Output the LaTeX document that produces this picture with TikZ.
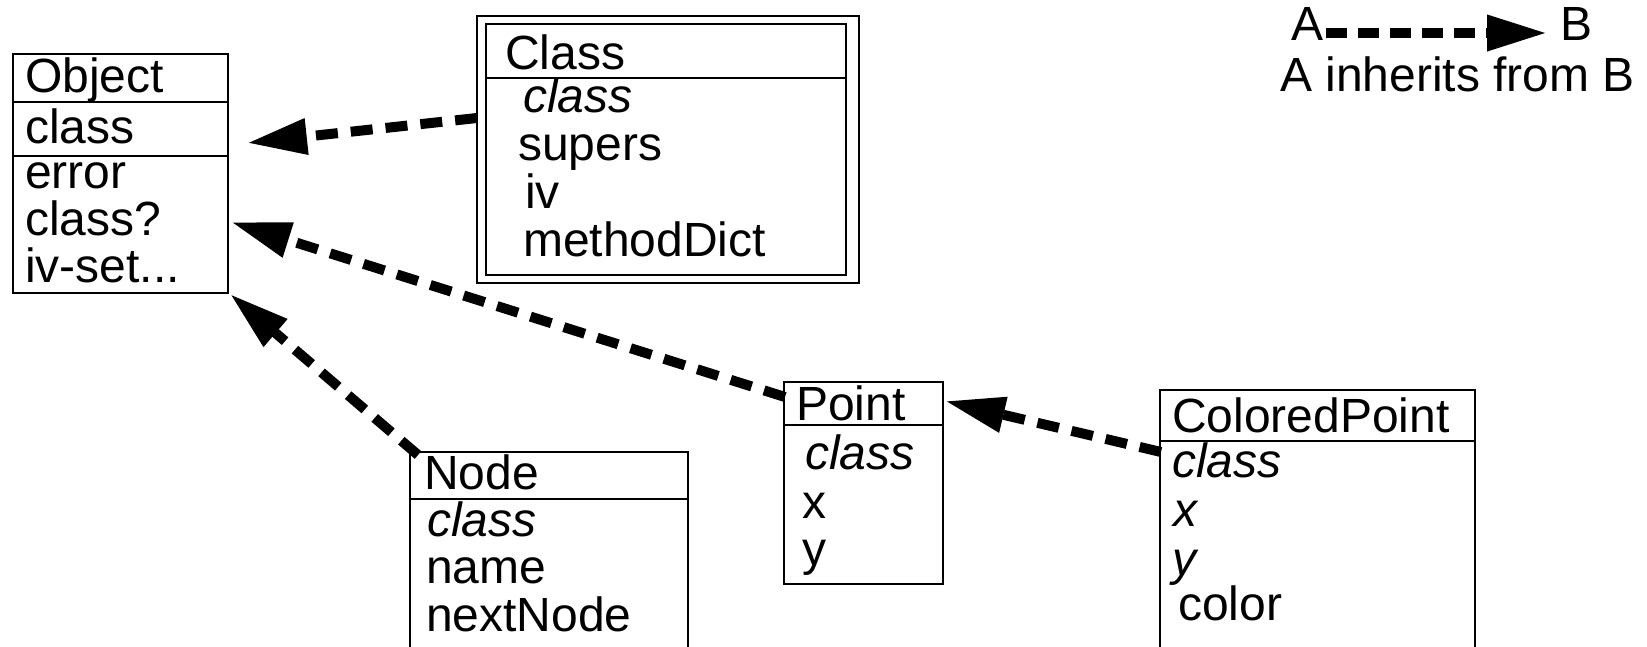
\documentclass[tikz,border=0pt]{standalone}
\usepackage{fontspec}
\setmainfont{Liberation Sans}
\usetikzlibrary{arrows.meta}
\begin{document}
\begin{tikzpicture}[x=1pt,y=-1pt,
  box/.style={draw, line width=1.5pt, inner sep=0pt, outer sep=0pt, anchor=north west},
  divider/.style={line width=1.5pt},
  lbl/.style={anchor=base west, inner sep=0pt, font=\fontsize{48}{49}\selectfont},
  inh/.style={line width=10pt, dash pattern=on 22pt off 13pt, -{Triangle[length=60pt,width=34pt]}},
]
\useasboundingbox (0,0) rectangle (1647,646);
\clip (0,0) rectangle (1647,646);

% Object
\node[box, minimum width=215pt, minimum height=239pt] (obj) at (13,54) {};
\draw[divider] (13,102) -- (228,102);
\draw[divider] (13,156) -- (228,156);
\node[lbl] (objt) at (25,92) {Object};
\node[lbl] (objc) at (25,143) {class};
\node[lbl] (obje) at (25,188) {error};
\node[lbl] (objq) at (25,235) {class?};
\node[lbl] (obji) at (25,282) {iv-set...};

% Class (double frame)
\node[box, minimum width=382pt, minimum height=267pt] (cls) at (477,16) {};
\node[box, minimum width=360pt, minimum height=251pt] (clsin) at (486,24) {};
\draw[divider] (486,78) -- (846,78);
\node[lbl] (clst) at (505,69) {Class};
\node[lbl] (clsc) at (523,112) {\itshape class};
\node[lbl] (clss) at (518,160) {supers};
\node[lbl] (clsi) at (525,208) {iv};
\node[lbl] (clsm) at (523,256) {methodDict};

% Point
\node[box, minimum width=159pt, minimum height=202pt] (pt) at (784,382) {};
\draw[divider] (784,425) -- (943,425);
\node[lbl] (ptt) at (796,420) {Point};
\node[lbl] (ptc) at (805,469) {\itshape class};
\node[lbl] (ptx) at (802,518) {x};
\node[lbl] (pty) at (802,565) {y};

% Node
\node[box, minimum width=278pt, minimum height=260pt] (nd) at (410,452) {};
\draw[divider] (410,499) -- (688,499);
\node[lbl] (ndt) at (424,489) {Node};
\node[lbl] (ndc) at (427,536) {\itshape class};
\node[lbl] (ndn) at (426,583) {name};
\node[lbl] (ndx) at (426,631) {nextNode};

% ColoredPoint
\node[box, minimum width=315pt, minimum height=300pt] (cp) at (1160,390) {};
\draw[divider] (1160,441) -- (1475,441);
\node[lbl] (cpt) at (1172,432) {ColoredPoint};
\node[lbl] (cpc) at (1172,477) {\itshape class};
\node[lbl] (cpx) at (1173,526) {\itshape x};
\node[lbl] (cpy) at (1172,575) {\itshape y};
\node[lbl] (cpo) at (1178,620) {color};

% inheritance arrows
\coordinate (s1) at (477,118);  \coordinate (e1) at (247,143);
\coordinate (s2) at (785,397);  \coordinate (e2) at (231,222);
\coordinate (s3) at (418,455);  \coordinate (e3) at (230,294);
\coordinate (s4) at (1161,452); \coordinate (e4) at (945,401);
\draw[inh] (s1) -- (e1);
\draw[inh] (s2) -- (e2);
\draw[inh] (s3) -- (e3);
\draw[inh] (s4) -- (e4);

% legend
\node[lbl] (la) at (1291,40) {A};
\node[lbl] (lb) at (1560,40) {B};
\coordinate (ls) at (1326,33); \coordinate (le) at (1547,33);
\draw[inh, dash pattern=on 21pt off 11pt] (ls) -- (le);
\node[lbl] (lt) at (1280,91) {A inherits from B};
\end{tikzpicture}
\end{document}
